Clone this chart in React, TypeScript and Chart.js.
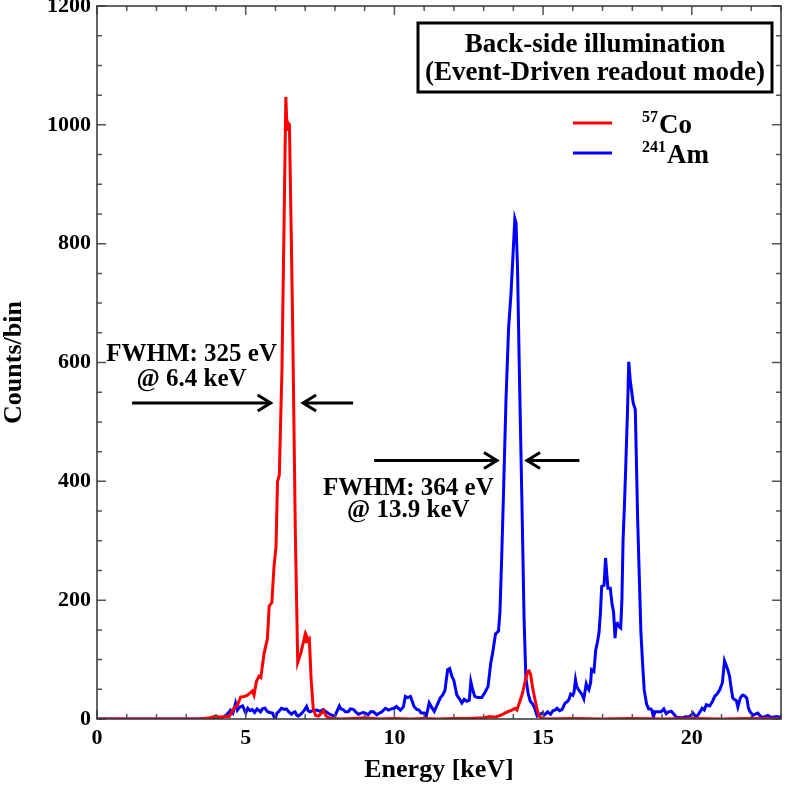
import React, { useEffect, useRef } from "react";
import { Chart, registerables } from "chart.js";

Chart.register(...registerables);

// ---------- data ----------
const coEnergy = [
  0, 3.4, 3.6, 3.8, 4.0, 4.1, 4.3, 4.45, 4.6, 4.72, 4.83, 4.95, 5.06, 5.15, 5.22, 5.28, 5.36, 5.45, 5.51,
  5.62, 5.73, 5.79, 5.88, 5.95, 6.02, 6.07, 6.13, 6.22, 6.3, 6.35, 6.39, 6.43, 6.47, 6.53, 6.58, 6.67,
  6.75, 6.86, 6.99, 7.03, 7.06, 7.1, 7.14, 7.2, 7.27, 7.35, 7.45, 7.55, 7.62, 7.7, 7.8, 7.95, 8.2, 8.6,
  9.0, 9.5, 10.0, 10.5, 11.0, 11.5, 12.0, 12.5, 13.0, 13.2, 13.4, 13.6, 13.8, 13.95, 14.06, 14.12, 14.22,
  14.3, 14.4, 14.48, 14.53, 14.58, 14.65, 14.72, 14.78, 14.85, 14.95, 15.2, 16.0, 17.0, 18.0, 19.0, 20.0,
  21.0, 22.0, 23.0,
];
const coCounts = [
  0, 0, 1, 2, 5, 3, 4, 4, 18, 23, 37, 38, 40, 44, 47, 40, 63, 72, 70,
  111, 135, 190, 196, 255, 290, 400, 410, 590, 870, 1047, 990, 1003, 1000, 820, 660, 311,
  95, 112, 140, 130, 138, 133, 135, 67, 18, 6, 5, 10, 14, 5, 2, 1, 0, 1,
  2, 0, 1, 0, 1, 0, 1, 1, 2, 4, 3, 7, 12, 15, 18, 15, 30,
  42, 64, 80, 81, 75, 52, 35, 20, 6, 1, 0, 1, 0, 1, 0, 1,
  0, 1, 0,
];

const amEnergy = [
  0, 4.0, 4.2, 4.3, 4.38, 4.49, 4.57, 4.66, 4.72, 4.8, 4.9, 5.0, 5.07, 5.15, 5.22, 5.3, 5.38, 5.43, 5.5,
  5.56, 5.65, 5.72, 5.8, 5.9, 5.96, 6.0, 6.05, 6.1, 6.2, 6.3, 6.37, 6.45, 6.54, 6.6, 6.66, 6.72, 6.77,
  6.85, 6.93, 7.0, 7.05, 7.1, 7.16, 7.25, 7.38, 7.5, 7.61, 7.7, 7.83, 7.92, 8.0, 8.08, 8.15, 8.2, 8.28,
  8.35, 8.45, 8.52, 8.62, 8.7, 8.79, 8.88, 8.96, 9.05, 9.12, 9.2, 9.3, 9.41, 9.5, 9.58, 9.7, 9.8, 9.9,
  9.99, 10.07, 10.2, 10.3, 10.37, 10.45, 10.54, 10.6, 10.66, 10.75, 10.83, 10.9, 11.0, 11.07, 11.17,
  11.25, 11.34, 11.45, 11.55, 11.62, 11.7, 11.79, 11.86, 11.93, 12.0, 12.1, 12.2, 12.27, 12.35, 12.44,
  12.52, 12.57, 12.63, 12.7, 12.8, 12.94, 13.05, 13.15, 13.24, 13.3, 13.4, 13.5, 13.55, 13.61, 13.68,
  13.75, 13.84, 13.92, 13.98, 14.05, 14.09, 14.14, 14.2, 14.29, 14.36, 14.42, 14.5, 14.57, 14.65, 14.72,
  14.8, 14.9, 14.97, 15.05, 15.15, 15.25, 15.33, 15.4, 15.47, 15.55, 15.64, 15.74, 15.81, 15.87, 15.93,
  16.0, 16.04, 16.09, 16.13, 16.18, 16.26, 16.32, 16.37, 16.45, 16.5, 16.54, 16.6, 16.63, 16.71, 16.77,
  16.83, 16.88, 16.93, 16.97, 17.05, 17.1, 17.14, 17.18, 17.26, 17.32, 17.37, 17.42, 17.46, 17.5, 17.56,
  17.61, 17.65, 17.69, 17.74, 17.78, 17.84, 17.88, 17.93, 17.97, 18.03, 18.1, 18.14, 18.18, 18.24,
  18.29, 18.35, 18.4, 18.48, 18.55, 18.62, 18.66, 18.71, 18.76, 18.8, 18.9, 18.97, 19.06, 19.14, 19.22,
  19.31, 19.4, 19.48, 19.6, 19.7, 19.8, 19.87, 19.95, 20.04, 20.1, 20.15, 20.25, 20.35, 20.42, 20.49,
  20.6, 20.7, 20.77, 20.85, 20.94, 21.03, 21.1, 21.16, 21.21, 21.27, 21.33, 21.38, 21.44, 21.5, 21.55,
  21.63, 21.7, 21.74, 21.8, 21.85, 21.9, 21.94, 22.0, 22.05, 22.12, 22.22, 22.3, 22.37, 22.45, 22.56,
  22.65, 22.73, 22.85, 23.0,
];
const amCounts = [
  0, 0, 2, 5, 8, 15, 10, 27, 15, 20, 22, 10, 18, 14, 16, 11, 17, 15, 12,
  17, 18, 13, 11, 10, 3, 1, 10, 12, 18, 16, 17, 12, 8, 11, 12, 6, 5,
  8, 12, 17, 21, 14, 12, 14, 15, 13, 16, 12, 8, 6, 5, 14, 22, 17, 16,
  12, 12, 17, 16, 12, 8, 10, 11, 9, 7, 12, 12, 7, 10, 12, 18, 15, 17,
  18, 21, 15, 20, 38, 36, 38, 30, 21, 16, 15, 10, 10, 4, 27,
  20, 13, 25, 36, 40, 48, 83, 85, 72, 65, 40, 33, 27, 33, 30,
  32, 63, 50, 38, 36, 36, 45, 55, 94, 110, 143, 148, 180, 275, 400,
  533, 658, 715, 773, 842, 835, 760, 590, 361, 170, 70, 42, 30, 25, 18,
  5, 8, 10, 7, 12, 8, 14, 15, 18, 14, 16, 27, 29, 33, 42,
  40, 45, 66, 55, 50, 45, 40, 34, 59, 52, 49, 62, 83, 80, 116,
  130, 145, 180, 223, 225, 271, 245, 220, 220, 193, 180, 136, 160, 161, 155,
  153, 200, 302, 365, 426, 520, 601, 570, 555, 532, 521, 430, 336, 230,
  145, 90, 49, 25, 17, 17, 15, 3, 12, 12, 12, 12, 17, 9, 12,
  13, 8, 3, 2, 2, 4, 3, 5, 10, 6, 3, 10, 18, 15, 24,
  22, 30, 38, 42, 49, 61, 98, 90, 83, 72, 50, 35, 33, 31, 20,
  35, 40, 40, 38, 35, 20, 14, 10, 6, 8, 10, 5, 3, 4, 6,
  3, 3, 4, 3,
];

const xTickValues = [0, 5, 10, 15, 20];
const yTickValues = [0, 200, 400, 600, 800, 1000, 1200];
const xMinorStep = 1;
const yMinorStep = 50;

const seriesLabels = ["57Co", "241Am"];
const seriesSup = ["57", "241"];
const seriesMain = ["Co", "Am"];
const seriesColors = ["#ff0000", "#0000ff"];
const boxTitle = ["Back-side illumination", "(Event-Driven readout mode)"];

const fwhmNotes = [
  { lines: ["FWHM: 325 eV", "@ 6.4 keV"], textX: 3.18, textY: [614, 572], arrowY: 532, inArrow: [1.18, 5.84], outArrow: [8.61, 6.93] },
  { lines: ["FWHM: 364 eV", "@ 13.9 keV"], textX: 10.47, textY: [388, 350], arrowY: 435, inArrow: [9.32, 13.45], outArrow: [16.22, 14.46] },
];

const FONT = '"Liberation Serif", "Times New Roman", Times, serif';

function toPoints(xs: number[], ys: number[]) {
  return xs.map((x, i) => ({ x, y: ys[i] }));
}

function drawArrow(ctx: CanvasRenderingContext2D, x0: number, x1: number, y: number) {
  const dir = x1 > x0 ? 1 : -1;
  ctx.beginPath();
  ctx.moveTo(x0, y);
  ctx.lineTo(x1, y);
  ctx.stroke();
  ctx.beginPath();
  ctx.moveTo(x1 - dir * 13, y - 8);
  ctx.lineTo(x1, y);
  ctx.lineTo(x1 - dir * 13, y + 8);
  ctx.stroke();
}

const decorPlugin = {
  id: "decor",
  afterDatasetsDraw(chart: any) {
    const { ctx, chartArea: a, scales } = chart;
    const x = scales.x;
    const y = scales.y;
    ctx.save();

    // inward ticks on all four sides
    ctx.strokeStyle = "#555";
    ctx.lineWidth = 1.5;
    for (let v = 0; v <= 23 + 1e-9; v += xMinorStep) {
      const px = x.getPixelForValue(v);
      const len = xTickValues.includes(v) ? 9 : 5;
      ctx.beginPath();
      ctx.moveTo(px, a.bottom);
      ctx.lineTo(px, a.bottom - len);
      ctx.moveTo(px, a.top);
      ctx.lineTo(px, a.top + len);
      ctx.stroke();
    }
    for (let v = 0; v <= 1200; v += yMinorStep) {
      const py = y.getPixelForValue(v);
      const len = yTickValues.includes(v) ? 9 : 5;
      ctx.beginPath();
      ctx.moveTo(a.left, py);
      ctx.lineTo(a.left + len, py);
      ctx.moveTo(a.right, py);
      ctx.lineTo(a.right - len, py);
      ctx.stroke();
    }

    // frame
    ctx.strokeStyle = "#333";
    ctx.lineWidth = 1.5;
    ctx.strokeRect(a.left, a.top, a.right - a.left, a.bottom - a.top);

    // title box
    const bx0 = a.right - 363;
    const by0 = a.top + 17;
    const bw = 354;
    const bh = 69;
    ctx.fillStyle = "#fff";
    ctx.fillRect(bx0, by0, bw, bh);
    ctx.strokeStyle = "#000";
    ctx.lineWidth = 3;
    ctx.strokeRect(bx0, by0, bw, bh);
    ctx.fillStyle = "#000";
    ctx.font = `bold 27px ${FONT}`;
    ctx.textAlign = "center";
    ctx.textBaseline = "middle";
    ctx.fillText(boxTitle[0], bx0 + bw / 2, by0 + 22);
    ctx.fillText(boxTitle[1], bx0 + bw / 2, by0 + 50);

    // legend entries
    seriesLabels.forEach((_, i) => {
      const ly = a.top + 117 + i * 30;
      ctx.strokeStyle = seriesColors[i];
      ctx.lineWidth = 3;
      ctx.beginPath();
      ctx.moveTo(a.right - 208, ly);
      ctx.lineTo(a.right - 169, ly);
      ctx.stroke();
      ctx.fillStyle = "#000";
      ctx.textAlign = "left";
      ctx.textBaseline = "alphabetic";
      ctx.font = `bold 16px ${FONT}`;
      const sx = a.right - 139;
      ctx.fillText(seriesSup[i], sx, ly - 1);
      const sw = ctx.measureText(seriesSup[i]).width;
      ctx.font = `bold 27px ${FONT}`;
      ctx.fillText(seriesMain[i], sx + sw + 1, ly + 10);
    });

    // FWHM annotations
    ctx.fillStyle = "#000";
    ctx.strokeStyle = "#000";
    ctx.lineWidth = 3;
    ctx.font = `bold 25px ${FONT}`;
    ctx.textAlign = "center";
    ctx.textBaseline = "middle";
    fwhmNotes.forEach((n) => {
      const tx = x.getPixelForValue(n.textX);
      n.lines.forEach((t, k) => ctx.fillText(t, tx, y.getPixelForValue(n.textY[k])));
      const ay = y.getPixelForValue(n.arrowY);
      drawArrow(ctx, x.getPixelForValue(n.inArrow[0]), x.getPixelForValue(n.inArrow[1]), ay);
      drawArrow(ctx, x.getPixelForValue(n.outArrow[0]), x.getPixelForValue(n.outArrow[1]), ay);
    });

    ctx.restore();
  },
};

export default function App() {
  const canvasRef = useRef<HTMLCanvasElement | null>(null);

  useEffect(() => {
    document.body.style.margin = "0";
    const canvas = canvasRef.current;
    if (!canvas) return;
    const chart = new Chart(canvas, {
      type: "line",
      data: {
        datasets: [
          {
            label: seriesLabels[0],
            data: toPoints(coEnergy, coCounts),
            borderColor: seriesColors[0],
            borderWidth: 3,
            pointRadius: 0,
            tension: 0,
            fill: false,
          },
          {
            label: seriesLabels[1],
            data: toPoints(amEnergy, amCounts),
            borderColor: seriesColors[1],
            borderWidth: 3,
            pointRadius: 0,
            tension: 0,
            fill: false,
          },
        ],
      },
      options: {
        animation: false,
        responsive: false,
        maintainAspectRatio: false,
        devicePixelRatio: 1,
        parsing: false,
        layout: { padding: { left: 0, right: 8, top: 6, bottom: 0 } },
        plugins: { legend: { display: false }, tooltip: { enabled: false } },
        scales: {
          x: {
            type: "linear",
            min: 0,
            max: 23,
            grid: { display: false, drawTicks: false },
            border: { display: false },
            afterBuildTicks: (s: any) => {
              s.ticks = xTickValues.map((v) => ({ value: v }));
            },
            afterFit: (s: any) => {
              s.height = 70;
              s.paddingLeft = 0;
              s.paddingRight = 0;
            },
            ticks: {
              padding: 6,
              color: "#000",
              autoSkip: false,
              maxRotation: 0,
              callback: (v: any) => String(v),
              font: { family: FONT, size: 22, weight: "bold" },
            },
            title: {
              display: true,
              text: "Energy [keV]",
              color: "#000",
              font: { family: FONT, size: 26, weight: "bold", lineHeight: 1.1 },
              padding: { top: 0, bottom: 4 },
            },
          },
          y: {
            type: "linear",
            min: 0,
            max: 1200,
            grid: { display: false, drawTicks: false },
            border: { display: false },
            afterBuildTicks: (s: any) => {
              s.ticks = yTickValues.map((v) => ({ value: v }));
            },
            afterFit: (s: any) => {
              s.width = 97;
              s.paddingTop = 0;
              s.paddingBottom = 0;
            },
            ticks: {
              padding: 6,
              color: "#000",
              autoSkip: false,
              callback: (v: any) => String(v),
              font: { family: FONT, size: 22, weight: "bold" },
            },
            title: {
              display: true,
              text: "Counts/bin",
              color: "#000",
              font: { family: FONT, size: 26, weight: "bold", lineHeight: 1.1 },
              padding: { top: 0, bottom: 0 },
            },
          },
        },
      },
      plugins: [decorPlugin],
    } as any);
    return () => chart.destroy();
  }, []);

  return (
    <div style={{ position: "fixed", left: 0, top: 0, width: 789, height: 789, background: "#fff" }}>
      <canvas ref={canvasRef} width={789} height={789} style={{ width: 789, height: 789 }} />
    </div>
  );
}
